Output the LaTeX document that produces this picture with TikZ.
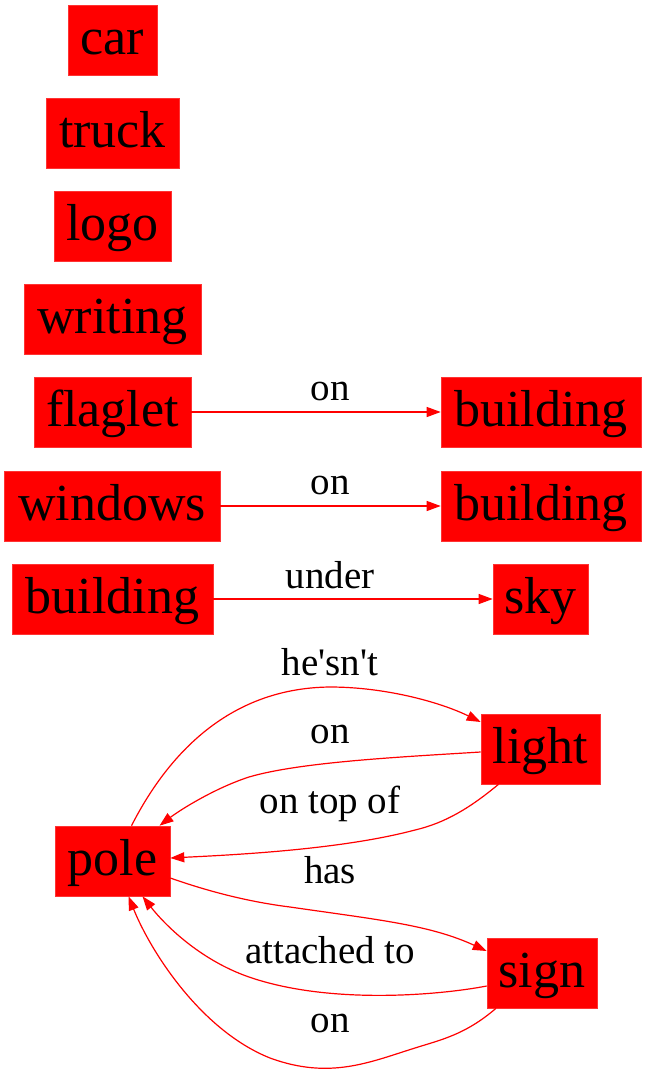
\documentclass[tikz,border=0pt]{standalone}
\usepackage{fontspec}
\setmainfont{Liberation Serif}[Ligatures=TeXOff]
\usetikzlibrary{arrows.meta}
\begin{document}
\begin{tikzpicture}[x=1pt,y=-1pt,
  obj/.style={fill=red,draw=red!80,line width=0.6pt,minimum height=70pt,inner xsep=0pt,
    inner ysep=0pt,text height=40pt,text depth=12pt,
    font=\fontsize{52}{60}\selectfont},
  rel/.style={draw=red,line width=1.2pt,-{Triangle[length=14pt,width=10pt]}},
  lbl/.style={font=\fontsize{39}{44}\selectfont,anchor=base,inner sep=0pt}]
\useasboundingbox (0,0) rectangle (647,1072);
% isolated objects
\node[obj,minimum width=89pt]  (car)     at (112.5,40)  {car};
\node[obj,minimum width=133pt] (truck)   at (112.5,133) {truck};
\node[obj,minimum width=117pt] (logo)    at (112.5,226) {logo};
\node[obj,minimum width=177pt] (writing) at (112.5,319) {writing};
% simple relations
\node[obj,minimum width=157pt] (flaglet) at (112.5,412) {flaglet};
\node[obj,minimum width=200pt] (bldA)    at (541,412)   {building};
\node[obj,minimum width=216pt] (windows) at (112,506)   {windows};
\node[obj,minimum width=200pt] (bldB)    at (541,506)   {building};
\node[obj,minimum width=201pt] (bldC)    at (112.5,599) {building};
\node[obj,minimum width=95pt]  (sky)     at (540.5,599) {sky};
\draw[rel] (flaglet) -- (bldA);
\draw[rel] (windows) -- (bldB);
\draw[rel] (bldC) -- (sky);
\node[lbl] (l1) at (330,400) {on};
\node[lbl] (l2) at (330,494) {on};
\node[lbl] (l3) at (330,588) {under};
% pole, light and sign
\node[obj,minimum width=115pt] (pole)  at (112.5,861) {pole};
\node[obj,minimum width=119pt] (light) at (540.5,749) {light};
\node[obj,minimum width=110pt] (sign)  at (542,973)   {sign};
\draw[rel] ([xshift=19pt]pole.north) .. controls (165,760) and (225,688) .. (330,687)
  .. controls (385,687) and (440,702) .. ([yshift=27pt]light.west);
\draw[rel] ([yshift=-3pt]light.west) .. controls (400,757) and (300,762) .. (249,777)
  .. controls (215,788) and (180,810) .. ([xshift=47pt]pole.north);
\draw[rel] ([xshift=-42pt]light.south) .. controls (470,808) and (445,823) .. (415,830)
  .. controls (340,850) and (230,855) .. ([yshift=3pt]pole.east);
\draw[rel] ([yshift=-17pt]pole.east) .. controls (210,892) and (250,902) .. (290,907)
  .. controls (380,920) and (430,925) .. ([yshift=22pt]sign.west);
\draw[rel] ([yshift=-13pt]sign.west) .. controls (440,995) and (330,1005) .. (249,977)
  .. controls (200,960) and (165,925) .. ([xshift=30pt]pole.south);
\draw[rel] ([xshift=-46pt]sign.south) .. controls (465,1035) and (440,1040) .. (415,1048)
  .. controls (370,1062) and (330,1080) .. (270,1058)
  .. controls (200,1030) and (150,950) .. ([xshift=16pt]pole.south);
\node[lbl] (l4) at (330,675)  {he'sn't};
\node[lbl] (l5) at (330,743)  {on};
\node[lbl] (l6) at (330,813)  {on top of};
\node[lbl] (l7) at (330,883)  {has};
\node[lbl] (l8) at (330,963)  {attached to};
\node[lbl] (l9) at (330,1032) {on};
\end{tikzpicture}
\end{document}
